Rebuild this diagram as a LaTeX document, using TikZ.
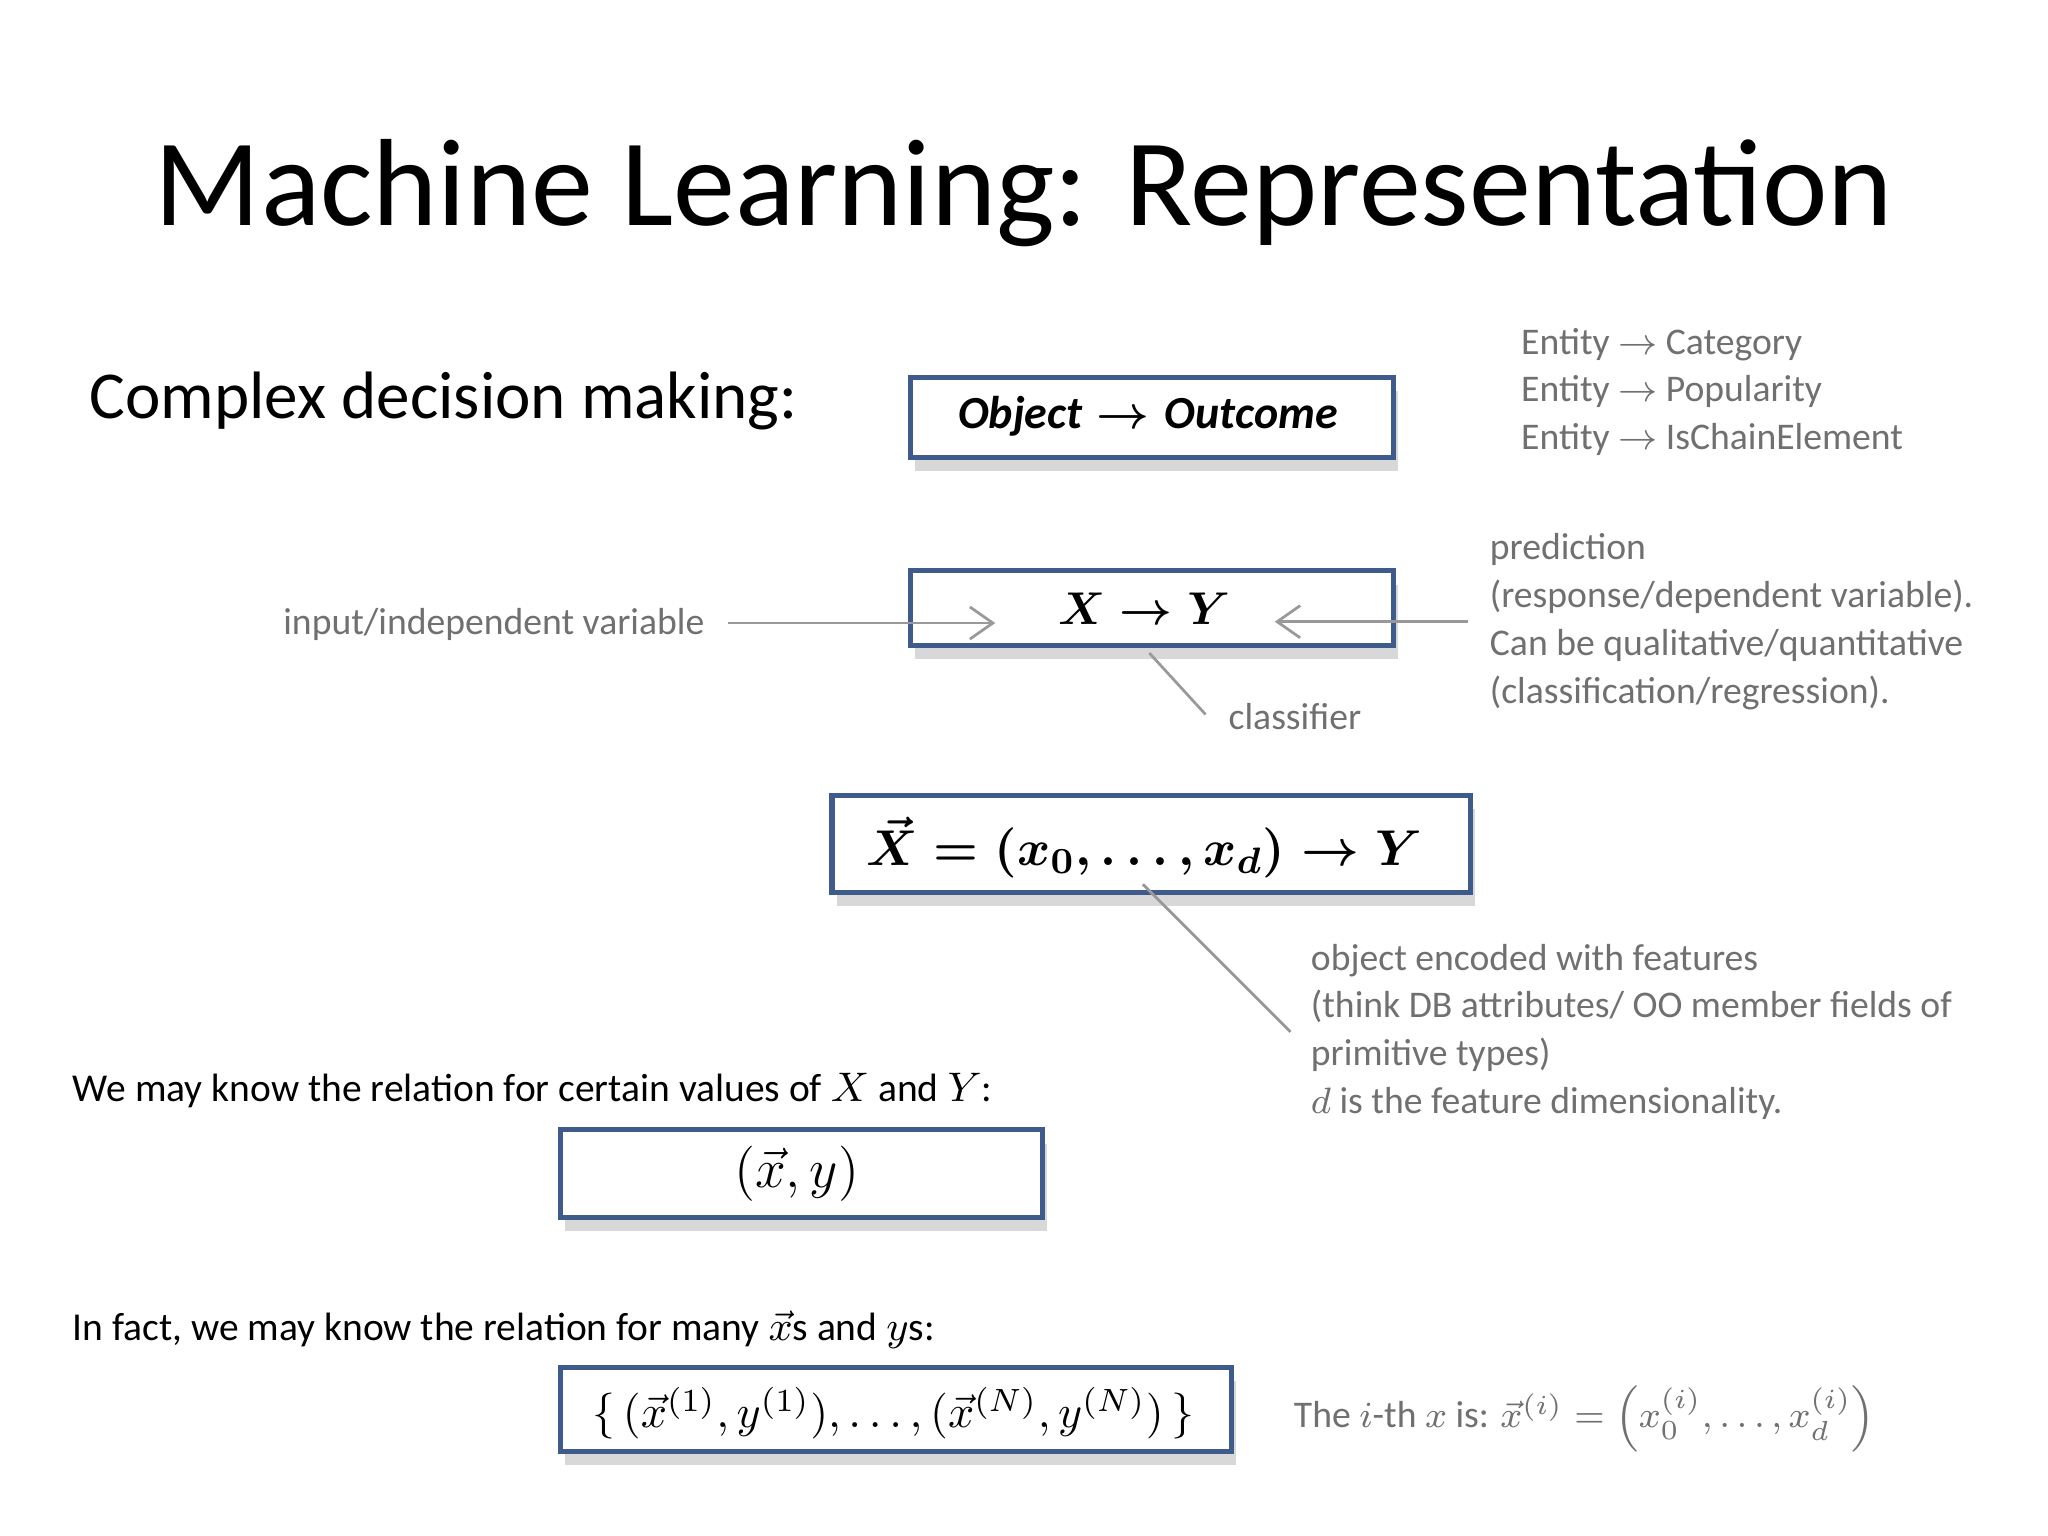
\documentclass[tikz,border=0pt]{standalone}
\usepackage{amsmath}
\usepackage{fontspec}
\setmainfont{Carlito}
\usetikzlibrary{shadows,arrows.meta}
\definecolor{bord}{HTML}{3F5B8C}
\definecolor{gtext}{HTML}{707070}
\begin{document}
\begin{tikzpicture}[x=0.01cm,y=-0.01cm,
  mbox/.style={draw=bord,line width=1.1pt,fill=white,
    drop shadow={shadow xshift=1pt,shadow yshift=-3pt,fill=gray!60,opacity=0.5}},
  gt/.style={text=gtext,font=\fontsize{8.2}{10.5}\selectfont,inner sep=0pt},
  bt/.style={font=\fontsize{8.6}{10.5}\selectfont,inner sep=0pt},
  gl/.style={draw=gray!80,line width=0.6pt},
  ga/.style={gl,-{Straight Barb[length=5pt,width=7pt]}}]
\useasboundingbox (0,0) rectangle (1568,1176);
\node[font=\fontsize{27}{30}\selectfont] (title) at (784,148) {Machine Learning: Representation};
\node[anchor=west,font=\fontsize{14.6}{16}\selectfont,inner sep=0pt] (cdm) at (68,307) {Complex decision making:};
% box1
\draw[mbox] (697,289) rectangle (1067,350);
\node (o1) at (879,319) {\fontsize{10}{12}\selectfont$\boldsymbol{\mathit{Object}\rightarrow \mathit{Outcome}}$};
\node[gt,anchor=west,align=left,font=\fontsize{8.2}{10.4}\selectfont] (ent) at (1164,300) {Entity $\rightarrow$ Category\\Entity $\rightarrow$ Popularity\\Entity $\rightarrow$ IsChainElement};
% box2
\draw[mbox] (697,437) rectangle (1067,494);
\node (xy) at (876,466) {\fontsize{10}{12}\selectfont$\boldsymbol{X\rightarrow Y}$};
\node[gt,anchor=east] (inp) at (540,478) {input/independent variable};
\coordinate (ia) at (762,477);
\draw[ga] (557,477) -- (ia);
\node[gt,anchor=west,align=left,font=\fontsize{8.2}{10.4}\selectfont] (pred) at (1140,476) {prediction\\(response/dependent variable).\\Can be qualitative/quantitative\\(classification/regression).};
\coordinate (pa) at (976,476);
\draw[ga] (1124,476) -- (pa);
\node[gt,anchor=west] (cls) at (940,549) {classifier};
\coordinate (c0) at (880,500);
\draw[gl] (c0) -- (923,547);
% box3
\draw[mbox] (637,609) rectangle (1126,683);
\node (feat) at (876,649) {\fontsize{11}{13}\selectfont$\boldsymbol{\vec{X}=(x_0,\dots,x_d)\rightarrow Y}$};
\coordinate (f0) at (875,677);
\draw[gl] (f0) -- (988,790);
\node[gt,anchor=north west,align=left,font=\fontsize{8.2}{10.4}\selectfont] (obj) at (1003,722) {object encoded with features\\(think DB attributes/ OO member fields of\\primitive types)\\$d$ is the feature dimensionality.};
% box4
\node[bt,anchor=west] (know) at (55,835) {We may know the relation for certain values of $X$ and $Y$:};
\draw[mbox] (429,865) rectangle (798,932);
\node (pair) at (610,899) {\fontsize{12}{14}\selectfont$(\vec{x},y)$};
% box5
\node[bt,anchor=west] (fact) at (55,1018) {In fact, we may know the relation for many $\vec{x}$s and $y$s:};
\draw[mbox] (429,1047) rectangle (943,1111);
\node (set) at (684,1082) {\fontsize{10}{12}\selectfont$\{\,(\vec{x}^{(1)},y^{(1)}),\dots,(\vec{x}^{(N)},y^{(N)})\,\}$};
\node[gt,anchor=west] (ith) at (990,1086) {The $i$-th $x$ is: $\vec{x}^{(i)}=\left(x_0^{(i)},\dots,x_d^{(i)}\right)$};
\end{tikzpicture}
\end{document}
